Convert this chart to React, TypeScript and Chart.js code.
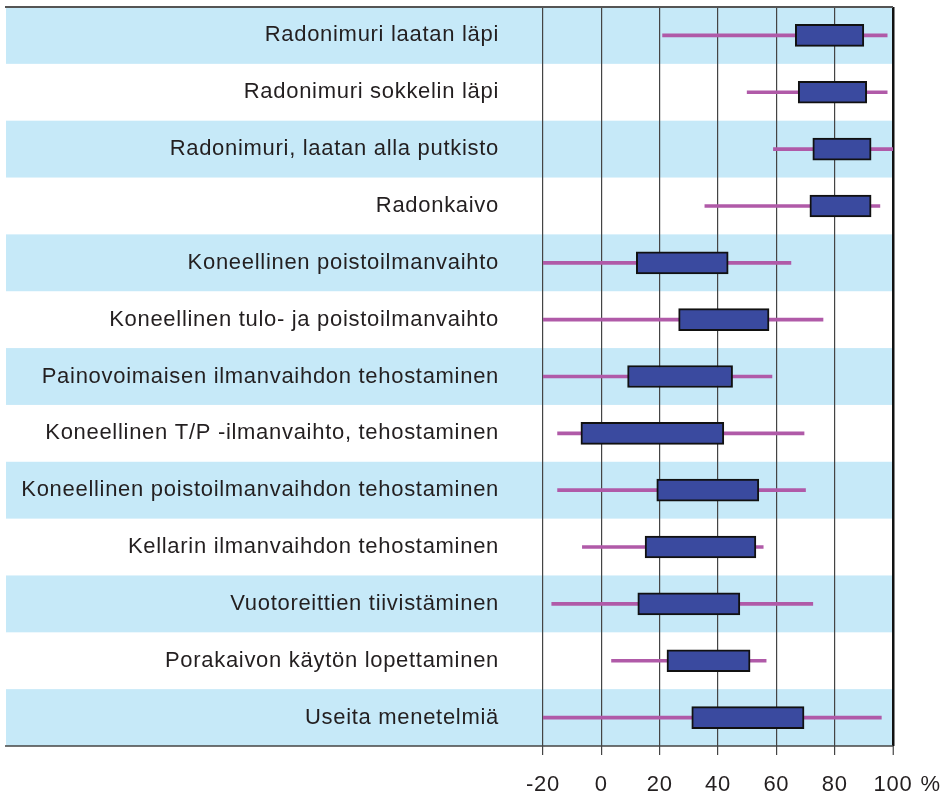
import React, { useEffect, useRef } from "react";
import { Chart, registerables } from "chart.js";

Chart.register(...registerables);

const categories = [
  "Radonimuri laatan läpi",
  "Radonimuri sokkelin läpi",
  "Radonimuri, laatan alla putkisto",
  "Radonkaivo",
  "Koneellinen poistoilmanvaihto",
  "Koneellinen tulo- ja poistoilmanvaihto",
  "Painovoimaisen ilmanvaihdon tehostaminen",
  "Koneellinen T/P -ilmanvaihto, tehostaminen",
  "Koneellinen poistoilmanvaihdon tehostaminen",
  "Kellarin ilmanvaihdon tehostaminen",
  "Vuotoreittien tiivistäminen",
  "Porakaivon käytön lopettaminen",
  "Useita menetelmiä",
];

const whiskerMin = [21, 50, 59, 35.5, -20, -20, -20, -15, -15, -6.5, -17, 3.5, -20];
const whiskerMax = [98, 98, 100, 95.5, 65, 76, 58.5, 69.5, 70, 55.5, 72.5, 56.5, 96];
const boxMin = [66.5, 67.5, 72.5, 71.5, 12, 26.5, 9, -7, 19, 15, 12.5, 22.5, 31];
const boxMax = [90, 91, 92.5, 92.5, 43.5, 57.5, 45, 42, 54, 53, 47.5, 51, 69.5];

const xTickValues = [-20, 0, 20, 40, 60, 80, 100];
const unitLabel = "%";

const FONT = "'Liberation Sans', Arial, Helvetica, sans-serif";
const LS = "0.7px";

const decorPlugin = {
  id: "decor",
  beforeUpdate(chart: any) {
    (chart.ctx as any).letterSpacing = LS;
  },
  beforeDraw(chart: any) {
    const ctx = chart.ctx;
    (ctx as any).letterSpacing = LS;
    const y = chart.scales.y;
    const area = chart.chartArea;
    const n = categories.length;
    const step = (area.bottom - area.top) / n;
    ctx.save();
    ctx.fillStyle = "#ffffff";
    ctx.fillRect(0, 0, chart.width, chart.height);
    for (let i = 0; i < n; i++) {
      if (i % 2 === 0) {
        const c = y.getPixelForValue(i);
        ctx.fillStyle = "#c6e9f8";
        ctx.fillRect(6, c - step / 2, area.right - 6, step);
      }
    }
    ctx.restore();
  },
  afterDraw(chart: any) {
    const ctx = chart.ctx;
    const area = chart.chartArea;
    const x = chart.scales.x;
    ctx.save();
    ctx.strokeStyle = "#555";
    ctx.lineWidth = 2;
    ctx.beginPath();
    ctx.moveTo(5, area.top);
    ctx.lineTo(area.right, area.top);
    ctx.stroke();
    ctx.strokeStyle = "#444";
    ctx.lineWidth = 1.5;
    ctx.beginPath();
    ctx.moveTo(5, area.bottom);
    ctx.lineTo(area.right, area.bottom);
    ctx.stroke();
    // unit after the last tick label
    ctx.font = `22px ${FONT}`;
    (ctx as any).letterSpacing = LS;
    ctx.fillStyle = "#231f20";
    ctx.textBaseline = "middle";
    ctx.textAlign = "left";
    const last = xTickValues[xTickValues.length - 1];
    const w = ctx.measureText(String(last)).width;
    const px = x.getPixelForValue(last) + w / 2 + 8;
    const py = area.bottom + 9 + 17 + 13.2;
    ctx.fillText(unitLabel, px, py);
    ctx.restore();
  },
};

export default function App() {
  const ref = useRef<HTMLCanvasElement | null>(null);
  useEffect(() => {
    if (!ref.current) return;
    const chart = new Chart(ref.current, {
      type: "bar",
      data: {
        labels: categories,
        datasets: [
          {
            label: "box",
            data: boxMin.map((v, i) => [v, boxMax[i]]) as any,
            backgroundColor: "#3a4a9f",
            borderColor: "#111",
            borderWidth: 2,
            borderSkipped: false,
            barThickness: 22,
            grouped: false,
          } as any,
          {
            label: "whisker",
            data: whiskerMin.map((v, i) => [v, whiskerMax[i]]) as any,
            backgroundColor: "#b05aa8",
            borderWidth: 0,
            barThickness: 3,
            grouped: false,
          } as any,
        ],
      },
      options: {
        indexAxis: "y",
        animation: false,
        responsive: false,
        devicePixelRatio: 1,
        layout: { padding: { top: 7, right: 55, left: 0, bottom: 0 } },
        plugins: { legend: { display: false }, tooltip: { enabled: false } },
        scales: {
          x: {
            type: "linear",
            position: "bottom",
            min: -20,
            max: 100,
            afterBuildTicks: (scale: any) => {
              scale.ticks = xTickValues.map((v) => ({ value: v }));
            },
            afterFit: (scale: any) => {
              scale.height = 49;
              scale.paddingLeft = 0;
              scale.paddingRight = 0;
            },
            ticks: {
              padding: 17,
              color: "#231f20",
              font: { family: FONT, size: 22 },
              callback: (v: any) => String(v),
              maxRotation: 0,
            },
            grid: {
              color: (c: any) => (c.tick && c.tick.value === 100 ? "#111" : "#444"),
              lineWidth: (c: any) => (c.tick && c.tick.value === 100 ? 2.5 : 1.2),
              tickLength: 9,
              tickColor: "#444",
              tickWidth: 1.2,
              drawTicks: true,
            },
            border: { display: false },
          },
          y: {
            type: "category",
            position: "left",
            offset: true,
            afterFit: (scale: any) => {
              scale.width = 543;
              scale.paddingTop = 0;
              scale.paddingBottom = 0;
            },
            ticks: {
              padding: 44,
              color: "#231f20",
              autoSkip: false,
              font: { family: FONT, size: 22 },
            },
            grid: { display: false, drawTicks: false },
            border: { display: false },
          },
        },
      },
      plugins: [decorPlugin],
    });
    return () => chart.destroy();
  }, []);
  return (
    <canvas
      ref={ref}
      width={948}
      height={795}
      style={{ position: "absolute", left: 0, top: 0, width: 948, height: 795 }}
    />
  );
}
